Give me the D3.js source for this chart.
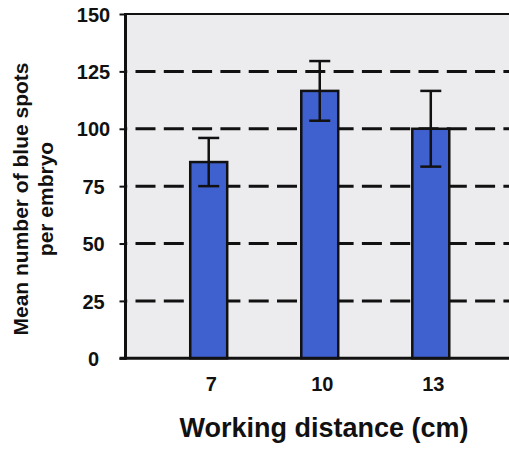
<!DOCTYPE html>
<html>
<head>
<meta charset="utf-8">
<script src="https://cdn.jsdelivr.net/npm/d3@7"></script>
<style>
    body { margin: 0; background: #fff; }
    svg text { font-family: "Liberation Sans", Arial, Helvetica, sans-serif; font-weight: bold; fill: #111; }
</style>
</head>
<body>
<div class="chart"></div>
<script>
// chart data
var distances = ['7', '10', '13'];
var meanSpots = [85.5, 116.5, 100];
var errSpots = [10.5, 13, 16.5];
var yTicks = [0, 25, 50, 75, 100, 125, 150];
var gridTicks = [25, 50, 75, 100, 125];

(function () {

    var width = 509,
        height = 449;

    // plot area, right side runs past the picture edge
    var left = 125.5,
        right = 514,
        top = 14,
        bottom = 358.3;

    var svg = d3.select('.chart').append('svg')
        .attr('width', width)
        .attr('height', height);

    var x = d3.scaleBand()
        .domain(distances)
        .range([left, right])
        .paddingInner(0.667)
        .paddingOuter(0.583);

    var y = d3.scaleLinear()
        .domain([0, 150])
        .range([bottom, top]);

    // grey background of the plot
    svg.append('rect')
        .attr('x', left)
        .attr('y', y(150))
        .attr('width', right - left)
        .attr('height', y(0) - y(150))
        .attr('fill', '#ececef');

    // dashed gridlines
    svg.append('g')
        .selectAll('line')
        .data(gridTicks)
        .enter().append('line')
        .attr('x1', left)
        .attr('x2', right)
        .attr('y1', function (d) { return y(d); })
        .attr('y2', function (d) { return y(d); })
        .style('stroke', '#111')
        .style('stroke-width', 3)
        .style('stroke-dasharray', '20,8.3')
        .style('stroke-dashoffset', 18.3);

    // top border
    svg.append('line')
        .attr('x1', left)
        .attr('x2', right)
        .attr('y1', y(150))
        .attr('y2', y(150))
        .style('stroke', '#111')
        .style('stroke-width', 2);

    // bars
    svg.append('g')
        .selectAll('rect')
        .data(meanSpots)
        .enter().append('rect')
        .attr('x', function (d, i) { return x(distances[i]); })
        .attr('y', function (d) { return y(d); })
        .attr('width', x.bandwidth())
        .attr('height', function (d) { return y(0) - y(d); })
        .attr('fill', '#3f60cf')
        .style('stroke', '#111')
        .style('stroke-width', 2.5);

    // error bars
    var err = svg.append('g')
        .selectAll('g')
        .data(meanSpots)
        .enter().append('g')
        .attr('transform', function (d, i) {
            return 'translate(' + (x(distances[i]) + x.bandwidth() / 2) + ',0)';
        });

    err.append('line')
        .attr('x1', 0).attr('x2', 0)
        .attr('y1', function (d, i) { return y(d + errSpots[i]); })
        .attr('y2', function (d, i) { return y(d - errSpots[i]); });

    err.append('line')
        .attr('x1', -10.5).attr('x2', 10.5)
        .attr('y1', function (d, i) { return y(d + errSpots[i]); })
        .attr('y2', function (d, i) { return y(d + errSpots[i]); });

    err.append('line')
        .attr('x1', -10.5).attr('x2', 10.5)
        .attr('y1', function (d, i) { return y(d - errSpots[i]); })
        .attr('y2', function (d, i) { return y(d - errSpots[i]); });

    err.selectAll('line')
        .style('stroke', '#111')
        .style('stroke-width', 2.5);

    // y axis
    var yAxis = svg.append('g')
        .attr('transform', 'translate(' + left + ',0)')
        .call(d3.axisLeft(y).tickValues(yTicks).tickSize(6).tickSizeOuter(0));

    yAxis.select('.domain')
        .attr('d', 'M0,' + (y(150) - 1) + 'V' + (y(0) + 1.5))
        .style('stroke', '#111')
        .style('stroke-width', 3);

    yAxis.selectAll('.tick line')
        .style('stroke', '#111')
        .style('stroke-width', 2);

    yAxis.selectAll('.tick text')
        .attr('x', -32)
        .attr('dy', '0.36em')
        .attr('text-anchor', 'middle')
        .style('font-size', '20px');

    // x axis
    var xAxis = svg.append('g')
        .attr('transform', 'translate(0,' + bottom + ')')
        .call(d3.axisBottom(x).tickSize(0).tickPadding(0));

    xAxis.select('.domain')
        .attr('d', 'M' + (left - 6) + ',0H' + right)
        .style('stroke', '#111')
        .style('stroke-width', 3);

    xAxis.selectAll('.tick text')
        .attr('x', 2.5)
        .attr('y', 33)
        .attr('dy', 0)
        .style('font-size', '20px');

    // axis titles
    svg.append('text')
        .attr('x', 324)
        .attr('y', 437)
        .attr('text-anchor', 'middle')
        .style('font-size', '27px')
        .text('Working distance (cm)');

    var yTitle = svg.append('text')
        .attr('transform', 'translate(0,199) rotate(-90)')
        .attr('text-anchor', 'middle')
        .style('font-size', '21px');

    yTitle.append('tspan')
        .attr('x', 0)
        .attr('y', 28)
        .text('Mean number of blue spots');

    yTitle.append('tspan')
        .attr('x', 0)
        .attr('y', 53)
        .text('per embryo');

}());
</script>
</body>
</html>
